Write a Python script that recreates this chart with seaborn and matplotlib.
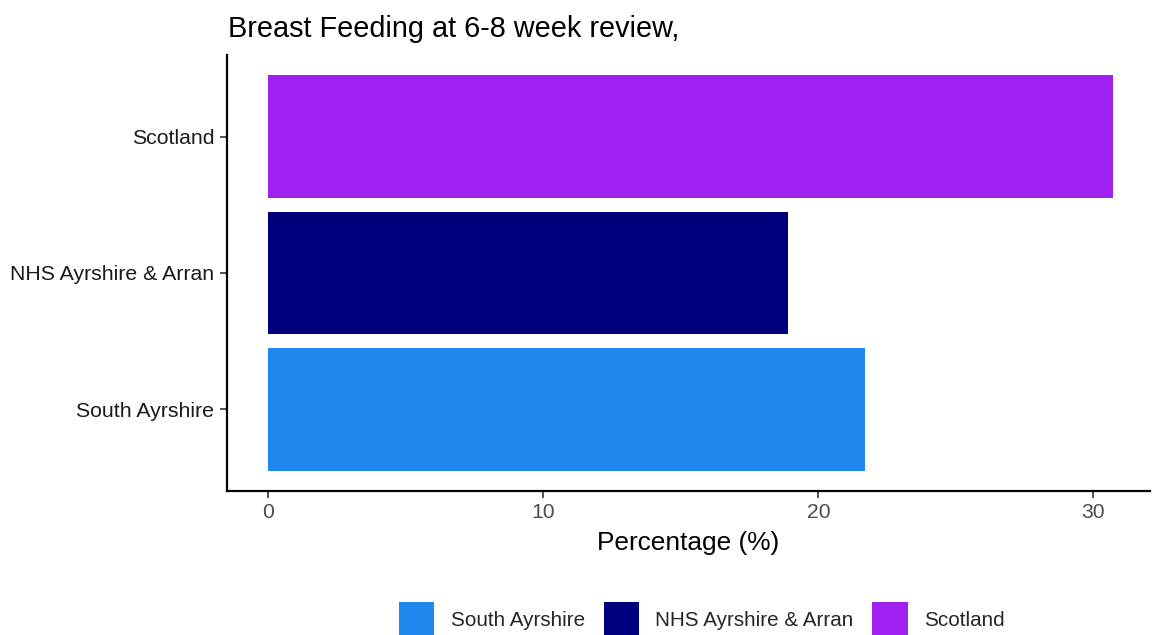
import matplotlib
matplotlib.use("Agg")
import matplotlib.pyplot as plt
from matplotlib.patches import Patch
import seaborn as sns
import pandas as pd

# Data
areas = ["Scotland", "NHS Ayrshire & Arran", "South Ayrshire"]
values = [30.7, 18.9, 21.7]
legend_order = ["South Ayrshire", "NHS Ayrshire & Arran", "Scotland"]
colors = {"South Ayrshire": "#1E88EE", "NHS Ayrshire & Arran": "#00007F", "Scotland": "#A020F0"}
title = "Breast Feeding at 6-8 week review,"
xlabel = "Percentage (%)"
xticks = [0, 10, 20, 30]

df = pd.DataFrame({"area": areas, "value": values})

sns.set_theme(style="white")
plt.rcParams["font.family"] = ["Liberation Sans", "DejaVu Sans"]

fig = plt.figure(figsize=(11.55, 6.35), dpi=100)
W, H = 1155, 635
ax = fig.add_axes([227 / W, 1 - 491 / H, (1150 - 227) / W, (491 - 55) / H])

sns.barplot(data=df, y="area", x="value", hue="area", order=areas,
            palette=colors, orient="h", width=0.9, dodge=False,
            legend=False, ax=ax, saturation=1, linewidth=0)

ax.set_xlim(-1.50, 32.06)
ax.set_ylim(2.6, -0.6)
ax.set_xticks(xticks)
ax.set_xticklabels([str(t) for t in xticks])
ax.set_xlabel(xlabel, fontsize=18.9, color="black", labelpad=6)
ax.set_ylabel("")

for side in ["top", "right"]:
    ax.spines[side].set_visible(False)
for side in ["left", "bottom"]:
    ax.spines[side].set_color("black")
    ax.spines[side].set_linewidth(1.6)

ax.tick_params(axis="x", which="both", bottom=True, length=5, width=1.2,
               color="#333333", labelsize=15.2, labelcolor="#4D4D4D", pad=4)
ax.tick_params(axis="y", which="both", left=True, length=5, width=1.2,
               color="#333333", labelsize=15.3, labelcolor="#1A1A1A", pad=4)

fig.text(228 / W, 1 - 37 / H, title, fontsize=20.8, color="black",
         ha="left", va="baseline")

handles = [Patch(facecolor=colors[k], edgecolor="none", label=k) for k in legend_order]
fig.legend(handles=handles, loc="center", bbox_to_anchor=(702 / W, 1 - 619 / H),
           ncol=3, frameon=False, fontsize=14.9, handlelength=1.7,
           handleheight=2.1, handletextpad=0.8, columnspacing=0.9)

fig.savefig("out.png", dpi=100)
